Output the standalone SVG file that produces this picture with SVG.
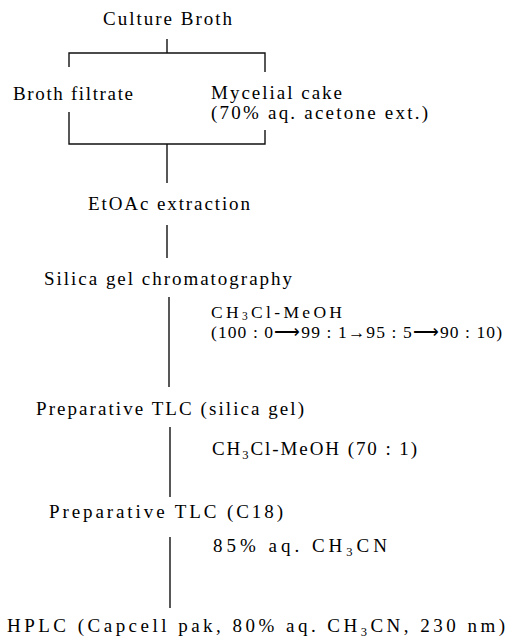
<svg xmlns="http://www.w3.org/2000/svg" width="525" height="638" viewBox="0 0 525 638">
<style>
text{font-family:"Liberation Serif","Times New Roman",serif;font-size:19px;fill:#000}
.sub{font-size:12.5px}
.tight{font-size:17.5px}
.tsub{font-size:11.5px}
line,polyline{stroke:#111;stroke-width:1.4;fill:none}
</style>
<rect width="525" height="638" fill="#fff"/>
<g id="culture-broth"><text x="103" y="25" textLength="129" lengthAdjust="spacing">Culture Broth</text></g>
<g id="broth-filtrate"><text x="13" y="100" textLength="120" lengthAdjust="spacing">Broth filtrate</text></g>
<g id="mycelial-cake"><text x="211" y="99" textLength="131" lengthAdjust="spacing">Mycelial cake</text><text x="211" y="118.5" textLength="217" lengthAdjust="spacing">(70% aq. acetone ext.)</text></g>
<g id="etoac"><text x="88" y="210" textLength="162" lengthAdjust="spacing">EtOAc extraction</text></g>
<g id="silica"><text x="44" y="285" textLength="248" lengthAdjust="spacing">Silica gel chromatography</text></g>
<g id="cond1"><text class="tight" x="211" y="318" textLength="131" lengthAdjust="spacing">CH<tspan class="tsub" dy="2">3</tspan><tspan dy="-2">Cl-MeOH</tspan></text><text class="tight" x="211" y="337.5" textLength="291" lengthAdjust="spacing">(100 : 0⟶99 : 1→95 : 5⟶90 : 10)</text></g>
<g id="ptlc-silica"><text x="36" y="415" textLength="268" lengthAdjust="spacing">Preparative TLC (silica gel)</text></g>
<g id="cond2"><text x="212" y="455" textLength="205" lengthAdjust="spacing">CH<tspan class="sub" dy="4">3</tspan><tspan dy="-4">Cl-MeOH (70 : 1)</tspan></text></g>
<g id="ptlc-c18"><text x="49" y="518" textLength="234" lengthAdjust="spacing">Preparative TLC (C18)</text></g>
<g id="cond3"><text x="213" y="552" textLength="174" lengthAdjust="spacing">85% aq. CH<tspan class="sub" dy="4">3</tspan><tspan dy="-4">CN</tspan></text></g>
<g id="hplc"><text x="7" y="632" textLength="498" lengthAdjust="spacing">HPLC (Capcell pak, 80% aq. CH<tspan class="sub" dy="4">3</tspan><tspan dy="-4">CN, 230 nm)</tspan></text></g>
<g id="connectors">
<line x1="167" y1="39" x2="167" y2="53"/>
<polyline points="69,67 69,53 265,53 265,72"/>
<polyline points="69,112 69,144 265,144 265,130"/>
<line x1="167" y1="144" x2="167" y2="183"/>
<line x1="167" y1="225" x2="167" y2="258"/>
<line x1="169" y1="297" x2="169" y2="387"/>
<line x1="170" y1="427" x2="170" y2="497"/>
<line x1="170" y1="537" x2="170" y2="608"/>
</g>
</svg>
